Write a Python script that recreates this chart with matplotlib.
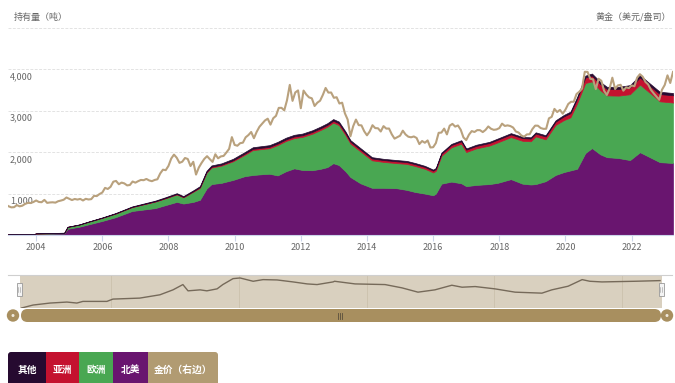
import numpy as np
import matplotlib
matplotlib.use("Agg")
import matplotlib.pyplot as plt
from matplotlib.patches import FancyBboxPatch, Rectangle, Circle
from matplotlib.transforms import blended_transform_factory

plt.rcParams['font.family'] = ['Noto Sans CJK SC', 'DejaVu Sans']

# ---- ETF gold holdings by region (tonnes), sampled at decimal-year dates ----
dates = [2003.15, 2003.95, 2004.0, 2004.5, 2004.85, 2004.95, 2005.3, 2005.6, 2006.0, 2006.4,
         2006.9, 2007.3, 2007.6, 2007.9, 2008.25, 2008.45, 2008.75, 2008.95, 2009.15, 2009.3,
         2009.6, 2009.95, 2010.3, 2010.55, 2010.85, 2011.05, 2011.3, 2011.55, 2011.8, 2012.05,
         2012.35, 2012.6, 2012.8, 2012.98, 2013.15, 2013.35, 2013.5, 2013.8, 2014.15, 2014.5,
         2014.9, 2015.2, 2015.45, 2015.75, 2016.0, 2016.08, 2016.25, 2016.55, 2016.85, 2017.0,
         2017.3, 2017.7, 2017.95, 2018.35, 2018.7, 2018.95, 2019.1, 2019.4, 2019.7, 2019.95,
         2020.15, 2020.35, 2020.6, 2020.8, 2021.05, 2021.25, 2021.6, 2021.95, 2022.25, 2022.55,
         2022.85, 2023.25]
north_america = [20, 22, 30, 35, 40, 150, 200, 260, 340, 430,
                 580, 620, 650, 720, 800, 760, 800, 850, 1120, 1230,
                 1260, 1330, 1420, 1450, 1470, 1480, 1440, 1540, 1610, 1570,
                 1565, 1600, 1640, 1735, 1690, 1540, 1400, 1250, 1140, 1140,
                 1130, 1090, 1040, 1000, 960, 1000, 1240, 1290, 1250, 1180,
                 1210, 1230, 1260, 1350, 1240, 1220, 1230, 1300, 1450, 1520,
                 1560, 1600, 1980, 2100, 1950, 1880, 1860, 1810, 2000, 1880,
                 1760, 1740]
europe = [2, 4, 7, 10, 12, 45, 50, 63, 75, 87,
          94, 131, 158, 164, 180, 150, 246, 290, 384, 400,
          416, 450, 516, 602, 608, 616, 734, 732, 730, 800,
          883, 938, 976, 980, 965, 877, 809, 772, 664, 626,
          606, 628, 628, 600, 551, 549, 674, 828, 954, 824,
          882, 930, 977, 1015, 1035, 1044, 1152, 1010, 1208, 1255,
          1282, 1578, 1692, 1610, 1548, 1493, 1506, 1590, 1634, 1554,
          1469, 1459]
asia = [0, 0, 0, 0, 0, 0, 0, 1, 2, 3,
        4, 5, 6, 8, 10, 10, 12, 15, 18, 20,
        22, 25, 28, 30, 32, 34, 36, 38, 40, 40,
        42, 42, 44, 45, 45, 45, 45, 44, 44, 44,
        44, 44, 44, 44, 44, 46, 50, 55, 58, 58,
        60, 62, 65, 65, 65, 66, 68, 70, 80, 90,
        100, 110, 130, 140, 150, 155, 160, 165, 170, 170,
        175, 175]
other = [0, 2, 3, 3, 4, 5, 5, 6, 8, 10,
         12, 14, 16, 18, 20, 20, 22, 25, 28, 30,
         32, 35, 36, 38, 40, 40, 40, 40, 40, 40,
         40, 40, 40, 40, 40, 38, 36, 34, 32, 30,
         30, 28, 28, 26, 25, 25, 26, 27, 28, 28,
         28, 28, 28, 30, 30, 30, 30, 30, 32, 35,
         38, 42, 48, 50, 52, 52, 54, 55, 56, 56,
         56, 56]

# ---- Gold price, month-end USD/oz, Jan 2003 .. Mar 2023 ----
gold_price = [
    367, 347, 334, 336, 361, 346, 354, 375, 388, 386, 398, 417,
    399, 396, 424, 388, 393, 395, 391, 408, 416, 426, 453, 438,
    422, 435, 428, 436, 417, 437, 429, 433, 473, 470, 495, 513,
    569, 556, 582, 644, 653, 613, 633, 623, 599, 604, 646, 632,
    650, 665, 662, 677, 659, 650, 665, 673, 743, 789, 783, 834,
    923, 971, 933, 871, 885, 930, 918, 833, 884, 730, 814, 870,
    919, 952, 916, 883, 975, 926, 949, 955, 996, 1040, 1182, 1088,
    1078, 1109, 1115, 1180, 1207, 1244, 1169, 1246, 1307, 1346, 1383, 1405,
    1333, 1410, 1439, 1535, 1536, 1505, 1628, 1813, 1620, 1722, 1746, 1531,
    1744, 1696, 1662, 1651, 1558, 1598, 1622, 1692, 1776, 1720, 1721, 1657,
    1664, 1588, 1598, 1469, 1394, 1192, 1314, 1394, 1327, 1324, 1253, 1204,
    1251, 1326, 1291, 1289, 1250, 1315, 1285, 1286, 1216, 1164, 1182, 1199,
    1260, 1214, 1187, 1180, 1190, 1172, 1098, 1135, 1114, 1142, 1057, 1060,
    1111, 1234, 1237, 1285, 1215, 1320, 1342, 1309, 1323, 1272, 1178, 1146,
    1212, 1255, 1244, 1267, 1266, 1243, 1269, 1311, 1283, 1270, 1275, 1291,
    1345, 1317, 1324, 1316, 1298, 1250, 1237, 1202, 1187, 1215, 1217, 1279,
    1321, 1320, 1292, 1282, 1283, 1409, 1427, 1523, 1485, 1511, 1465, 1515,
    1582, 1609, 1609, 1702, 1730, 1768, 1971, 1970, 1887, 1880, 1762, 1887,
    1863, 1743, 1691, 1768, 1900, 1763, 1807, 1814, 1743, 1783, 1774, 1806,
    1797, 1901, 1942, 1912, 1849, 1818, 1753, 1711, 1672, 1633, 1754, 1812,
    1928, 1836, 1969,
]
gold_first_year = 2003

# ---- Navigator overview series (relative level 0-100) ----
nav_years = [2003.2, 2003.56, 2004.09, 2004.62, 2004.93, 2005.12, 2005.87, 2006.06, 2006.9,
             2007.53, 2007.94, 2008.25, 2008.41, 2008.79, 2009.0, 2009.32, 2009.5, 2009.82,
             2010.04, 2010.45, 2010.76, 2011.2, 2011.7, 2012.14, 2012.45, 2012.95, 2013.0,
             2013.64, 2014.58, 2015.11, 2015.61, 2016.14, 2016.67, 2016.99, 2017.4, 2018.02,
             2018.65, 2019.49, 2019.8, 2020.31, 2020.75, 2020.99, 2021.37, 2022.4, 2023.19]
nav_levels = [0, 9, 15, 18, 15, 20, 20, 27, 30,
              40, 55, 71, 52, 55, 52, 58, 71, 89,
              91, 81, 86, 85, 79, 73, 71, 79, 81,
              73, 71, 61, 48, 55, 69, 63, 65, 58,
              48, 45, 55, 66, 86, 81, 79, 81, 83]

year_ticks = list(range(2004, 2023, 2))
holding_ticks = [1000, 2000, 3000, 4000]
legend_labels = ['其他', '亚洲', '欧洲', '北美', '金价（右边）']

# ---- colours ----
c_na = '#69156f'
c_eu = '#49a752'
c_as = '#c4122f'
c_ot = '#260a30'
c_gold = '#b9a17d'
c_gold_btn = '#b19b72'
c_nav_bg = '#d9d0bf'
c_scroll = '#a88f5f'
label_gray = '#666666'

W, H = 675, 383
fig = plt.figure(figsize=(W / 100, H / 100), dpi=100)


def fig_rect(x0, y0, x1, y1):
    return [x0 / W, 1 - y1 / H, (x1 - x0) / W, (y1 - y0) / H]


# ---- main chart ----
ax = fig.add_axes(fig_rect(8, 28, 673, 235))
ax.set_xlim(2003.15, 2023.25)
ax.set_ylim(0, 5000)
ax.stackplot(dates, north_america, europe, asia, other,
             colors=[c_na, c_eu, c_as, c_ot], linewidth=0.5,
             edgecolor='face')
for s in ['left', 'right', 'top']:
    ax.spines[s].set_visible(False)
ax.spines['bottom'].set_color('#ccd6eb')
ax.spines['bottom'].set_linewidth(0.8)
ax.set_yticks([0, 1000, 2000, 3000, 4000, 5000])
ax.set_yticklabels([])
ax.tick_params(axis='y', length=0)
ax.grid(axis='y', color='#e3e3e3', linewidth=0.7, linestyle=(0, (3, 1.5)))
ax.set_axisbelow(True)
ax.set_xticks(year_ticks)
ax.set_xticklabels([str(y) for y in year_ticks], fontsize=6.5, color=label_gray)
ax.tick_params(axis='x', length=4, color='#ccd6eb', width=0.8, pad=2)

trans = blended_transform_factory(ax.transAxes, ax.transData)
for v in holding_ticks:
    ax.annotate(f"{v:,}", xy=(0.003, v), xycoords=trans, xytext=(0, -2),
                textcoords='offset points', ha='left', va='top',
                fontsize=6.5, color=label_gray)

ax2 = ax.twinx()
ax2.set_ylim(0, 2500)
gold_x = gold_first_year + (np.arange(len(gold_price)) + 1) / 12.0
ax2.plot(gold_x, gold_price, color=c_gold, linewidth=1.5, solid_joinstyle='round')
ax2.set_axis_off()
ax2.set_xlim(2003.15, 2023.25)

fig.text(14 / W, 1 - 17 / H, '持有量（吨）', fontsize=6.5, color=label_gray,
         ha='left', va='center')
fig.text(671 / W, 1 - 17 / H, '黄金（美元/盎司）', fontsize=6.5, color=label_gray,
         ha='right', va='center')

# ---- navigator ----
nav = fig.add_axes(fig_rect(20, 275, 662, 308))
nav.set_facecolor(c_nav_bg)
nav.set_xlim(2003.15, 2023.25)
nav.set_ylim(0, 100)
for yr in [2006, 2010, 2014, 2018, 2022]:
    nav.axvline(yr, color='#cbc1ac', linewidth=0.6)
nav.plot(nav_years, nav_levels, color='#766a5a', linewidth=1.0)
nav.set_xticks([])
nav.set_yticks([])
for s in nav.spines.values():
    s.set_visible(False)

# ---- overlay in pixel coordinates for scrollbar, handles and buttons ----
ov = fig.add_axes([0, 0, 1, 1], facecolor='none')
ov.set_xlim(0, W)
ov.set_ylim(H, 0)
ov.set_axis_off()

ov.plot([8, 672], [275, 275], color='#cfcfcf', linewidth=0.8)

# scrollbar
ov.add_patch(FancyBboxPatch((21, 309), 640, 13,
                            boxstyle='round,pad=0,rounding_size=6.5',
                            facecolor=c_scroll, edgecolor='none'))
for cx in (13, 667):
    ov.add_patch(Circle((cx, 315.5), 6.2, facecolor=c_scroll, edgecolor='none'))
    ov.add_patch(Circle((cx, 315.5), 1.5, facecolor='#efe9dc', edgecolor='none'))
for gx in (337.5, 339.5, 341.5):
    ov.plot([gx, gx], [312.5, 318.5], color='#5a4f3c', linewidth=0.6)

# navigator handles
for hx in (19, 661):
    ov.add_patch(Rectangle((hx - 2.5, 283), 5, 13, facecolor='#f4f4f4',
                           edgecolor='#999999', linewidth=0.6))
    for lx in (hx - 0.7, hx + 0.7):
        ov.plot([lx, lx], [287, 292], color='#999999', linewidth=0.4)

# legend buttons
btn_edges = [8, 46, 79, 113, 148, 218]
btn_colors = [c_ot, c_as, c_eu, c_na, c_gold_btn]
for i, (lab, col) in enumerate(zip(legend_labels, btn_colors)):
    x0, x1 = btn_edges[i], btn_edges[i + 1]
    if i in (0, len(legend_labels) - 1):
        ov.add_patch(FancyBboxPatch((x0, 352), x1 - x0, 40,
                                    boxstyle='round,pad=0,rounding_size=3',
                                    facecolor=col, edgecolor='none'))
    if i == 0:
        ov.add_patch(Rectangle((x1 - 6, 352), 6, 40, facecolor=col, edgecolor='none'))
    elif i == len(legend_labels) - 1:
        ov.add_patch(Rectangle((x0, 352), 6, 40, facecolor=col, edgecolor='none'))
    else:
        ov.add_patch(Rectangle((x0, 352), x1 - x0, 40, facecolor=col, edgecolor='none'))
    ov.text((x0 + x1) / 2, 369.5, lab, color='white', fontsize=7, fontweight='bold',
            ha='center', va='center')

fig.savefig('out.png', dpi=100)
